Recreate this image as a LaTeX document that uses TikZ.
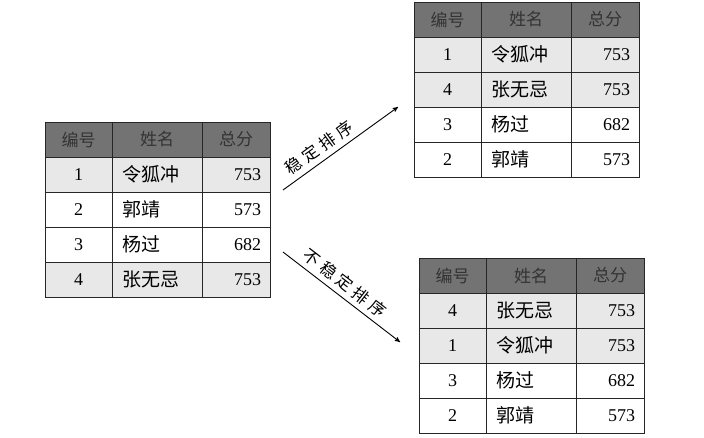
\documentclass[tikz,border=0pt]{standalone}
\usepackage{fontspec}
\setmainfont{Liberation Serif}
\newfontfamily\cjk{Noto Sans CJK SC}
\newfontfamily\cjkwide[LetterSpace=25]{Noto Sans CJK SC}
\usetikzlibrary{arrows, positioning}

\begin{document}
\begin{tikzpicture}[x=1pt,y=-1pt,>=stealth',
 cell/.style={draw=black!85,line width=0.9pt,minimum height=35pt,inner sep=0pt,outer sep=0pt,font=\fontsize{18}{20}\selectfont},
 idcell/.style={cell,minimum width=67pt},
 namecell/.style={cell,inner xsep=10pt,text width=70pt,align=left},
 scorecell/.style={cell,inner xsep=9pt,text width=50pt,align=right},
 head/.style={fill=black!55,text=black!80,align=center,font=\cjk\fontsize{17}{19}\selectfont},
 hl/.style={fill=black!9},
 plain/.style={fill=white},
 arrow label/.style={font=\cjkwide\fontsize{16.5}{18}\selectfont,sloped,above=5pt,inner sep=0pt}]
\useasboundingbox (0,0) rectangle (704,437);

% left table, input order
\node[idcell,head,anchor=north west](L0a) at (45,122){编号};
\node[namecell,head,right=0pt of L0a](L0b){姓名};
\node[scorecell,head,right=0pt of L0b](L0c){总分};
\foreach \i/\id/\nm/\sc/\st in {1/1/令狐冲/753/hl, 2/2/郭靖/573/plain, 3/3/杨过/682/plain, 4/4/张无忌/753/hl}{
  \pgfmathtruncatemacro\p{\i-1}
  \node[idcell,\st,below=0pt of L\p a](L\i a){\id};
  \node[namecell,\st,right=0pt of L\i a](L\i b){\cjk\fontsize{19}{21}\selectfont \nm};
  \node[scorecell,\st,right=0pt of L\i b](L\i c){\sc};}

% top right table, stable sort
\node[idcell,head,anchor=north west](S0a) at (414,2){编号};
\node[namecell,head,right=0pt of S0a](S0b){姓名};
\node[scorecell,head,right=0pt of S0b](S0c){总分};
\foreach \i/\id/\nm/\sc/\st in {1/1/令狐冲/753/hl, 2/4/张无忌/753/hl, 3/3/杨过/682/plain, 4/2/郭靖/573/plain}{
  \pgfmathtruncatemacro\p{\i-1}
  \node[idcell,\st,below=0pt of S\p a](S\i a){\id};
  \node[namecell,\st,right=0pt of S\i a](S\i b){\cjk\fontsize{19}{21}\selectfont \nm};
  \node[scorecell,\st,right=0pt of S\i b](S\i c){\sc};}

% bottom right table, unstable sort
\node[idcell,head,anchor=north west](U0a) at (419,258){编号};
\node[namecell,head,right=0pt of U0a](U0b){姓名};
\node[scorecell,head,right=0pt of U0b](U0c){总分};
\foreach \i/\id/\nm/\sc/\st in {1/4/张无忌/753/hl, 2/1/令狐冲/753/hl, 3/3/杨过/682/plain, 4/2/郭靖/573/plain}{
  \pgfmathtruncatemacro\p{\i-1}
  \node[idcell,\st,below=0pt of U\p a](U\i a){\id};
  \node[namecell,\st,right=0pt of U\i a](U\i b){\cjk\fontsize{19}{21}\selectfont \nm};
  \node[scorecell,\st,right=0pt of U\i b](U\i c){\sc};}

\coordinate (s1) at (283,190);
\coordinate (s2) at (398,107);
\coordinate (u1) at (283,252);
\coordinate (u2) at (400,342);
\draw[->,line width=0.9pt] (s1) -- node[arrow label,pos=0.38]{稳定排序} (s2);
\draw[->,line width=0.9pt] (u1) -- node[arrow label,pos=0.46]{不稳定排序} (u2);
\end{tikzpicture}
\end{document}
